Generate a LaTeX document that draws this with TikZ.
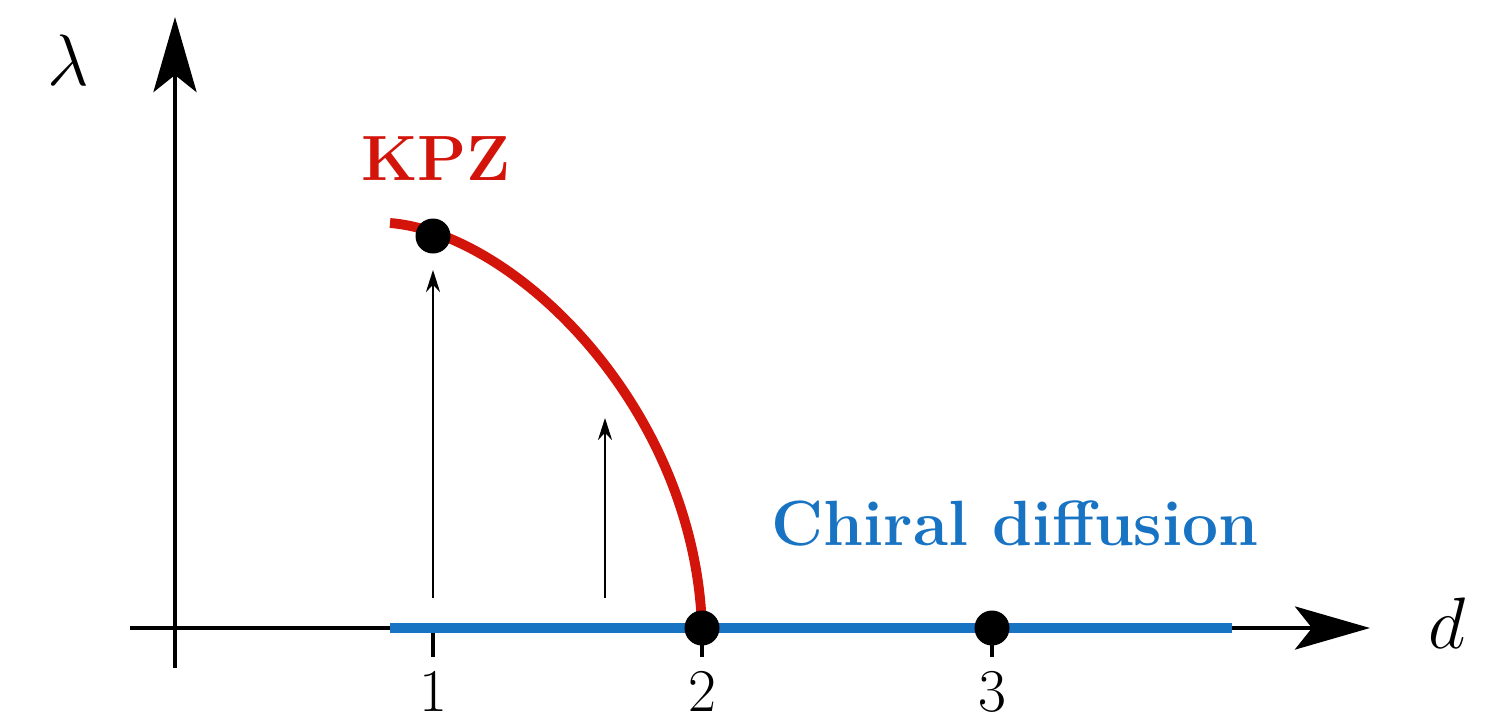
\documentclass[tikz,border=0pt]{standalone}
\usepackage{amsmath,amssymb}
\usepackage{xcolor}
\usepackage{tikz}
\usetikzlibrary{arrows.meta,positioning}

\definecolor{kpzred}{RGB}{210,20,10}
\definecolor{chiblue}{RGB}{25,115,195}

\begin{document}
\begin{tikzpicture}[
    axis/.style={-{Stealth[length=7.5mm, width=4.3mm, inset=1.7mm]}, line width=1.4pt},
    flow/.style={-{Stealth[length=2.2mm, width=1.4mm]}, line width=0.7pt},
    dot/.style={circle, fill=black, inner sep=0pt, minimum size=3.5mm},
    tick/.style={line width=1.2pt},
    ticklabel/.style={font=\fontsize{18}{20}\selectfont, inner sep=0pt},
    axlabel/.style={font=\fontsize{21}{24}\selectfont, inner sep=0pt},
    phase/.style={font=\fontsize{18.2}{20}\selectfont\bfseries, inner sep=0pt, anchor=base}
  ]
    \useasboundingbox (-1.75,-0.96) rectangle (13.12,6.28);

    % axes
    \coordinate (xs) at (-0.45,0);
    \coordinate (xe) at (11.95,0);
    \coordinate (ys) at (0,-0.40);
    \coordinate (ye) at (0,6.11);
    \draw[axis] (xs) -- (xe);
    \draw[axis] (ys) -- (ye);
    \node[axlabel] (lam) at (-1.07,5.68) {$\lambda$};
    \node[axlabel] (dd)  at (12.72,0.05) {$d$};

    % ticks
    \coordinate (d1) at (2.58,0);
    \coordinate (d2) at (5.27,0);
    \coordinate (d3) at (8.17,0);
    \foreach \p/\t in {d1/1, d2/2, d3/3} {
      \coordinate (\p b) at ([yshift=-0.29cm]\p);
      \draw[tick] (\p) -- (\p b);
      \node[ticklabel, below=0.15cm of \p b] (l\p) {$\t$};
    }

    % chiral diffusion line
    \coordinate (bs) at (2.15,0);
    \coordinate (be) at (10.57,0);
    \draw[chiblue, line width=2.8pt] (bs) -- (be);

    % KPZ curve
    \coordinate (rs) at (2.15,4.05);
    \draw[kpzred, line width=2.8pt] (rs) .. controls (3.4,3.95) and (5.2,2.2) .. (d2);

    % flows
    \coordinate (f1s) at (2.58,0.30);
    \coordinate (f1e) at (2.58,3.58);
    \coordinate (f2s) at (4.30,0.30);
    \coordinate (f2e) at (4.30,2.10);
    \draw[flow] (f1s) -- (f1e);
    \draw[flow] (f2s) -- (f2e);

    % fixed points
    \node[dot] (kpz) at (2.58,3.92) {};
    \node[dot] (fp2) at (d2) {};
    \node[dot] (fp3) at (d3) {};

    \node[phase, text=kpzred]  (kpzlab) at (2.61,4.48) {KPZ};
    \node[phase, text=chiblue] (chilab) at (8.40,0.83) {Chiral diffusion};
\end{tikzpicture}
\end{document}
